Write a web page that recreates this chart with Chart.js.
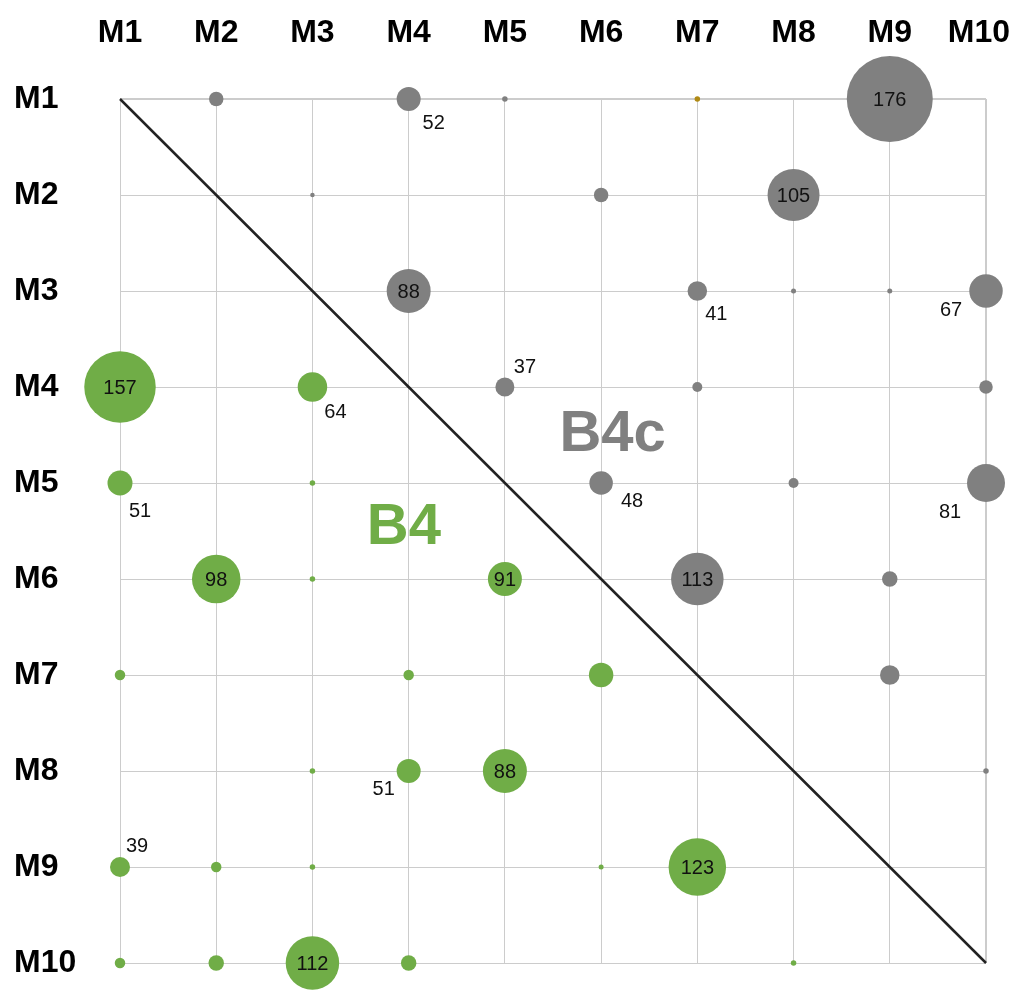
<!DOCTYPE html>
<html>
<head>
<meta charset="utf-8">
<script src="https://cdn.jsdelivr.net/npm/chart.js@4.4.1/dist/chart.umd.min.js"></script>
<style>
html,body{margin:0;padding:0;background:#fff;}
#wrap{width:1012px;height:990px;position:relative;}
</style>
</head>
<body>
<div id="wrap"><canvas id="c" width="1012" height="990"></canvas></div>
<script>
// ---- data ----
const tickLabels = ['M1','M2','M3','M4','M5','M6','M7','M8','M9','M10'];

// B4c (upper triangle, gray)
const grayX      = [2, 4, 5, 9, 3, 6, 8, 4, 7, 8, 9, 10, 5, 7, 10, 6, 8, 10, 7, 9, 9, 10];
const grayY      = [1, 1, 1, 1, 2, 2, 2, 3, 3, 3, 3, 3, 4, 4, 4, 5, 5, 5, 6, 6, 7, 8];
const grayWeight = [29, 48, 11, 172, 9, 29, 104, 88, 39, 10, 10, 67, 38, 20, 27, 47, 20, 76, 105, 31, 39, 11];
const grayLabel  = [null, 52, null, 176, null, null, 105, 88, 41, null, null, 67, 37, null, null, 48, null, 81, 113, null, null, null];

// single odd-coloured point
const otherX      = [7];
const otherY      = [1];
const otherWeight = [11];

// B4 (lower triangle, green)
const greenX      = [1, 3, 1, 3, 2, 3, 5, 1, 4, 6, 3, 4, 5, 1, 2, 3, 6, 7, 1, 2, 3, 4, 8];
const greenY      = [4, 4, 5, 5, 6, 6, 6, 7, 7, 7, 8, 8, 8, 9, 9, 9, 9, 9, 10, 10, 10, 10, 10];
const greenWeight = [143, 59, 50, 11, 97, 11, 68, 21, 21, 49, 11, 48, 88, 40, 21, 11, 10, 115, 21, 31, 107, 31, 11];
const greenLabel  = [157, 64, 51, null, 98, null, 91, null, null, null, null, 51, 88, 39, null, null, null, 123, null, null, 112, null, null];

// region captions (data coordinates)
const regionText = ['B4', 'B4c'];
const regionX    = [3.95, 6.12];
const regionY    = [5.47, 4.5];

// ---- styling ----
const SIZE_SCALE = 0.25;
const GRAY = '#808080', GREEN = '#70ad47', GOLD = '#b08a14';
const FONT = '"Liberation Sans", Arial, Helvetica, sans-serif';
// label offsets (px) for labels that sit outside their bubble
const outsideOffsets = {
  gray:  {'4,1':[25,23], '7,3':[19,22], '10,3':[-35,18], '5,4':[20,-21], '6,5':[31,17], '10,5':[-36,28]},
  green: {'3,4':[23,24], '1,5':[20,27], '4,8':[-25,17], '1,9':[17,-22]}
};

function pts(xs, ys, ws){ return xs.map((x,i)=>({x:x, y:ys[i], r:ws[i]*SIZE_SCALE})); }

const labelPlugin = {
  id: 'labels',
  afterDatasetsDraw(chart){
    const ctx = chart.ctx;
    const xs = chart.scales.x, ys = chart.scales.y;
    ctx.save();
    // region captions
    ctx.font = 'bold 58px ' + FONT;
    ctx.textAlign = 'center';
    ctx.textBaseline = 'middle';
    regionText.forEach((t,i)=>{
      ctx.fillStyle = i === 0 ? GREEN : GRAY;
      ctx.fillText(t, xs.getPixelForValue(regionX[i]), ys.getPixelForValue(regionY[i]));
    });
    // value labels
    ctx.font = '20px ' + FONT;
    ctx.fillStyle = '#111';
    const groups = [['gray', 1, grayX, grayY, grayLabel], ['green', 3, greenX, greenY, greenLabel]];
    groups.forEach(([key, dsIndex, gx, gy, gl])=>{
      const meta = chart.getDatasetMeta(dsIndex);
      gl.forEach((lab, j)=>{
        if (lab === null) return;
        const el = meta.data[j];
        const off = outsideOffsets[key][gx[j] + ',' + gy[j]] || [0, 0];
        ctx.fillText(String(lab), el.x + off[0], el.y + off[1] + 1);
      });
    });
    // top axis labels
    ctx.font = 'bold 32px ' + FONT;
    ctx.fillStyle = '#000';
    ctx.textBaseline = 'alphabetic';
    tickLabels.forEach((t,i)=>{
      let x = xs.getPixelForValue(i+1);
      const w = ctx.measureText(t).width;
      if (x + w/2 > chart.width - 2) x = chart.width - 2 - w/2;
      ctx.fillText(t, x, 42);
    });
    ctx.restore();
  }
};

const lastWide = (ctx) => ctx.index === 9 ? 2 : 1;

new Chart(document.getElementById('c'), {
  data: {
    datasets: [
      { type:'line', data:[{x:1,y:1},{x:10,y:10}], borderColor:'#222', borderWidth:2.5, pointRadius:0, order:5, clip:false },
      { type:'bubble', data: pts(grayX, grayY, grayWeight), backgroundColor: GRAY, borderWidth:0, clip:false, order:2 },
      { type:'bubble', data: pts(otherX, otherY, otherWeight), backgroundColor: GOLD, borderWidth:0, clip:false, order:2 },
      { type:'bubble', data: pts(greenX, greenY, greenWeight), backgroundColor: GREEN, borderWidth:0, clip:false, order:2 }
    ]
  },
  options: {
    responsive:false,
    animation:false,
    devicePixelRatio:1,
    events:[],
    layout:{ autoPadding:false, padding:{ left:14, right:26, top:0, bottom:27 } },
    plugins:{ legend:{display:false}, tooltip:{enabled:false} },
    scales:{
      x:{
        type:'linear', position:'top', min:1, max:10,
        ticks:{ stepSize:1, display:false },
        grid:{ color:'#cccccc', lineWidth:lastWide, drawTicks:false },
        border:{ display:false },
        afterFit(s){ s.height = 99; s.paddingLeft = 0; s.paddingRight = 0; }
      },
      y:{
        type:'linear', min:1, max:10, reverse:true,
        ticks:{ stepSize:1, crossAlign:'far', color:'#000',
          font:{ family: FONT, size:32, weight:'bold' },
          callback:(v)=> tickLabels[v-1] },
        grid:{ color:'#cccccc', lineWidth:lastWide, drawTicks:false },
        border:{ display:false },
        afterFit(s){ s.width = 106; s.paddingTop = 0; s.paddingBottom = 0; }
      }
    }
  },
  plugins:[labelPlugin]
});
</script>
</body>
</html>
